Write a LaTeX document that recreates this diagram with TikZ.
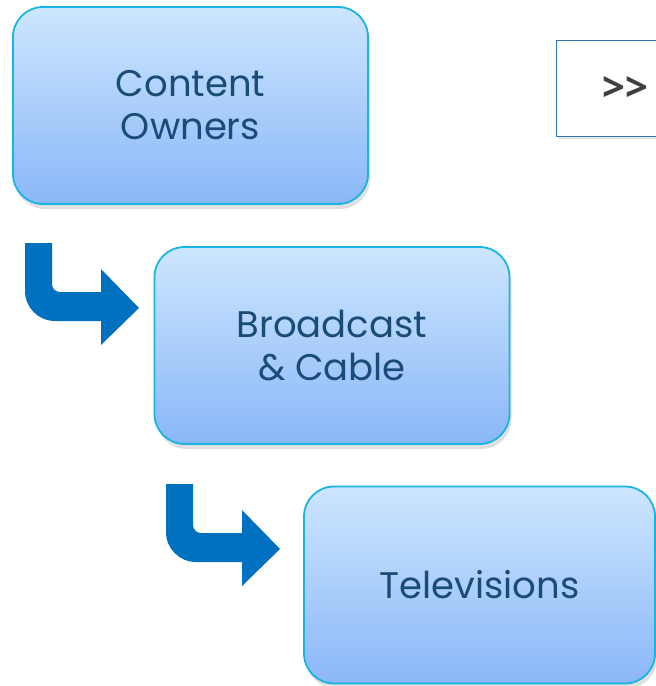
\documentclass[tikz,border=0pt]{standalone}
\usepackage{fontspec}
\setmainfont{Poppins}
\newfontfamily\navfont{Open Sans}
\usetikzlibrary{positioning,shadows}
\definecolor{boxtop}{HTML}{CDE6FE}
\definecolor{boxbot}{HTML}{8AB7F8}
\definecolor{boxline}{HTML}{1AB4E2}
\definecolor{boxtext}{HTML}{1B4C78}
\definecolor{arrowblue}{HTML}{0070C0}
\definecolor{navline}{HTML}{2E75B6}
\newlength{\lwidth}
\setlength{\lwidth}{1.8pt}

\tikzset{
  stagebox/.style={draw=boxline,line width=\lwidth,rounded corners=30pt,
    top color=boxtop,bottom color=boxbot,minimum width=355pt,minimum height=197pt,
    text=boxtext,align=center,font=\fontsize{37}{43}\selectfont,
    drop shadow={opacity=0.25,shadow xshift=2pt,shadow yshift=-5pt}},
  navbox/.style={draw=navline,line width=1.2pt,fill=white,minimum width=110pt,
    minimum height=96pt,text=black!75,font=\navfont\bfseries\fontsize{40}{40}\selectfont,
    drop shadow={opacity=0.2,shadow xshift=1pt,shadow yshift=-2pt}}
}

\begin{document}
\begin{tikzpicture}[x=1pt,y=-1pt]
  \useasboundingbox (0,0) rectangle (656,686);

  %% stages
  %% ------------------------------------
  \node[stagebox] (owners)     at (190.5,105.5) {Content\\Owners};
  \node[stagebox] (broadcast)  at (332,345.5)   {Broadcast\\\& Cable};
  \node[stagebox,minimum width=351pt] (tv) at (479.5,585) {Televisions};

  %% next button
  %% ------------------------------------
  \node[navbox,anchor=north west,text width=88pt,align=left] (next) at (556,40) {\hspace*{35pt}\raisebox{-2pt}{{>}{>}}};

  %% bent arrows
  %% ------------------------------------
  \coordinate (a1) at (0,0);
  \coordinate (a2) at (141,241);
  \foreach \a in {a1,a2}{
    \fill[arrowblue,shift={(\a)}]
      (25,243) -- (25,291) .. controls (25,307.6) and (38.4,321) .. (55,321)
      -- (101,321) -- (101,345) -- (139,308) -- (101,269) -- (101,292)
      -- (60,292) .. controls (55.6,292) and (52,288.4) .. (52,284)
      -- (52,243) -- cycle;
  }
\end{tikzpicture}
\end{document}
